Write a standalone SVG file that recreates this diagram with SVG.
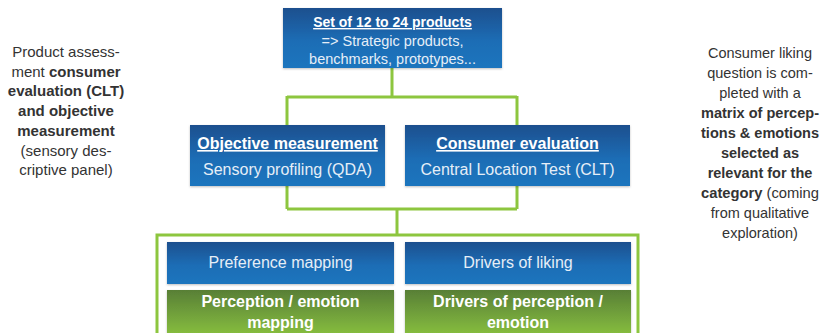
<svg xmlns="http://www.w3.org/2000/svg" width="822" height="333" viewBox="0 0 822 333">
<defs>
<linearGradient id="blue" x1="0" y1="0" x2="0" y2="1">
<stop offset="0" stop-color="#1E4F8E"/>
<stop offset="0.55" stop-color="#1B6DB5"/>
<stop offset="1" stop-color="#1B75BE"/>
</linearGradient>
<linearGradient id="green" x1="0" y1="0" x2="0" y2="1">
<stop offset="0" stop-color="#587F36"/>
<stop offset="1" stop-color="#8CC540"/>
</linearGradient>
<filter id="sh" x="-5%" y="-10%" width="110%" height="125%">
<feDropShadow dx="0" dy="1" stdDeviation="1.2" flood-color="#000" flood-opacity="0.25"/>
</filter>
</defs>
<style>
text{font-family:"Liberation Sans",Arial,sans-serif;text-anchor:middle}
.w{fill:#FFFFFF}
.lt{fill:#E6EEF7}
.b{font-weight:bold}
.u{text-decoration:underline}
.side{fill:#333333;font-size:15px}
.rs{fill:#333333;font-size:14.5px}
.con{fill:none;stroke:#8DC63F;stroke-width:3}
</style>

<g id="connectors">
<path class="con" d="M392,68 V97 M287,97 H517 M287,96 V125 M517,96 V125"/>
<path class="con" d="M287,186 V209 M517,186 V209 M287,209 H517 M397,209 V235"/>
<rect class="con" x="157" y="235" width="481" height="110"/>
</g>

<g id="products">
<rect x="283" y="8" width="219" height="60" fill="url(#blue)" filter="url(#sh)"/>
<text x="392.5" y="27" class="w b u" font-size="14px">Set of 12 to 24 products</text>
<text x="392.5" y="46" class="lt" font-size="14.5px">=&gt; Strategic products,</text>
<text x="392.5" y="64" class="lt" font-size="14.5px">benchmarks, prototypes...</text>
</g>

<g id="objective">
<rect x="190" y="125" width="195" height="61" fill="url(#blue)" filter="url(#sh)"/>
<text x="287.5" y="149" class="w b u" font-size="16px">Objective measurement</text>
<text x="287.5" y="175" class="lt" font-size="16px">Sensory profiling (QDA)</text>
</g>

<g id="consumer">
<rect x="405" y="125" width="225" height="61" fill="url(#blue)" filter="url(#sh)"/>
<text x="517.5" y="149" class="w b u" font-size="16px">Consumer evaluation</text>
<text x="517.5" y="175" class="lt" font-size="16px">Central Location Test (CLT)</text>
</g>

<g id="preference">
<rect x="167" y="242" width="227" height="42" fill="url(#blue)" filter="url(#sh)"/>
<text x="280.5" y="268" class="lt" font-size="16px">Preference mapping</text>
</g>

<g id="drivers-liking">
<rect x="405" y="242" width="226" height="42" fill="url(#blue)" filter="url(#sh)"/>
<text x="518" y="268" class="lt" font-size="16px">Drivers of liking</text>
</g>

<g id="perception-mapping">
<rect x="167" y="290" width="227" height="50" fill="url(#green)" filter="url(#sh)"/>
<text x="280.5" y="307" class="w b" font-size="16px">Perception / emotion</text>
<text x="280.5" y="328" class="w b" font-size="16px">mapping</text>
</g>

<g id="drivers-perception">
<rect x="405" y="290" width="226" height="50" fill="url(#green)" filter="url(#sh)"/>
<text x="518" y="307" class="w b" font-size="16px">Drivers of perception /</text>
<text x="518" y="328" class="w b" font-size="16px">emotion</text>
</g>

<g id="left-note">
<text class="side" x="66" y="57">Product assess-</text>
<text class="side" x="66" y="76.7">ment <tspan class="b">consumer</tspan></text>
<text class="side b" x="66" y="96.4">evaluation (CLT)</text>
<text class="side b" x="66" y="116.1">and objective</text>
<text class="side b" x="66" y="135.8">measurement</text>
<text class="side" x="66" y="155.5">(sensory des-</text>
<text class="side" x="66" y="175.2">criptive panel)</text>
</g>

<g id="right-note">
<text class="rs" x="760" y="58">Consumer liking</text>
<text class="rs" x="760" y="78">question is com-</text>
<text class="rs" x="760" y="98">pleted with a</text>
<text class="rs b" x="760" y="118" textLength="118" lengthAdjust="spacingAndGlyphs">matrix of percep-</text>
<text class="rs b" x="760" y="138" textLength="118" lengthAdjust="spacingAndGlyphs">tions &amp; emotions</text>
<text class="rs b" x="760" y="158">selected as</text>
<text class="rs b" x="760" y="178">relevant for the</text>
<text class="rs" x="760" y="198" textLength="118" lengthAdjust="spacingAndGlyphs"><tspan class="b">category</tspan> (coming</text>
<text class="rs" x="760" y="218">from qualitative</text>
<text class="rs" x="760" y="238">exploration)</text>
</g>
</svg>
